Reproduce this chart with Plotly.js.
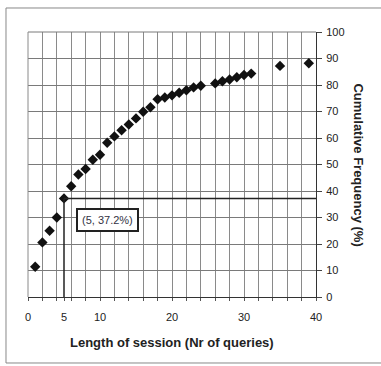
<!DOCTYPE html>
<html>
<head>
<meta charset="utf-8">
<script src="https://cdn.plot.ly/plotly-3.0.1.min.js"></script>
<style>html,body{margin:0;padding:0;background:#fff;}#chart{width:381px;height:366px;}</style>
</head>
<body>
<div id="chart"></div>
<script>
// Data
const sessionLength = [1,2,3,4,5,6,7,8,9,10,11,12,13,14,15,16,17,18,19,20,21,22,23,24,26,27,28,29,30,31,35,39];
const cumulativeFreq = [11.4,20.6,25.0,30.0,37.2,41.8,46.2,48.3,51.8,53.7,58.2,60.6,62.9,65.1,67.4,69.9,71.6,74.6,75.3,76.1,77.1,78.0,79.1,79.7,80.6,81.4,82.1,82.9,83.8,84.3,87.2,88.2];
const xTickVals = [0,5,10,20,30,40];
const yTickVals = [0,10,20,30,40,50,60,70,80,90,100];
const highlightX = 5;
const highlightY = 37.2;
const highlightLabel = "(5, 37.2%)";
const xTitle = "Length of session (Nr of queries)";
const yTitle = "Cumulative Frequency (%)";

const FONT = "Liberation Sans, Arial, sans-serif";

const trace = {
  x: sessionLength,
  y: cumulativeFreq,
  type: "scatter",
  mode: "markers",
  marker: {symbol: "diamond", size: 8, color: "#111"},
  hoverinfo: "x+y"
};

const layout = {
  width: 381, height: 366,
  margin: {l: 28, r: 65, t: 32, b: 69},
  paper_bgcolor: "#fff", plot_bgcolor: "#fff",
  showlegend: false,
  font: {family: FONT, size: 11, color: "#222"},
  xaxis: {
    range: [0, 40], tickmode: "array", tickvals: xTickVals, ticktext: xTickVals.map(String),
    showgrid: false, zeroline: false,
    showline: true, linecolor: "#333", linewidth: 1,
    ticks: "outside", ticklen: 3, tickcolor: "#555",
    ticklabelstandoff: 7,
    minor: {dtick: 2, tick0: 0, showgrid: true, gridcolor: "#8a8a8a", gridwidth: 1, ticks: "outside", ticklen: 3, tickcolor: "#555"},
    tickfont: {family: FONT, size: 11, color: "#222"},
    fixedrange: true
  },
  yaxis: {
    range: [0, 100], side: "right", tickmode: "array", tickvals: yTickVals,
    showgrid: true, gridcolor: "#7a7a7a", gridwidth: 1, zeroline: false,
    showline: true, linecolor: "#333", linewidth: 1,
    ticks: "outside", ticklen: 5, tickcolor: "#444",
    ticklabelstandoff: 2,
    tickfont: {family: FONT, size: 11, color: "#222"},
    fixedrange: true
  },
  shapes: [
    {type: "line", xref: "x", yref: "y", x0: highlightX, x1: highlightX, y0: 0, y1: highlightY, line: {color: "#222", width: 1.5}},
    {type: "line", xref: "x", yref: "y", x0: highlightX, x1: 40, y0: highlightY, y1: highlightY, line: {color: "#222", width: 1.5}},
    {type: "line", xref: "paper", yref: "paper", x0: 0, x1: 1, y0: 1, y1: 1, line: {color: "#7a7a7a", width: 1}},
    {type: "line", xref: "paper", yref: "paper", x0: 0, x1: 0, y0: 0, y1: 1, line: {color: "#8a8a8a", width: 1}},
    {type: "rect", xref: "paper", yref: "paper", x0: -0.0764, x1: 1.2465, y0: -0.249, y1: 1.0906, line: {color: "#888", width: 1}, layer: "below"}
  ],
  annotations: [
    {xref: "x", yref: "y", x: 11, y: 29, text: highlightLabel, showarrow: false,
     font: {family: FONT, size: 11, color: "#334"}, bgcolor: "#fff", bordercolor: "#222", borderwidth: 2, borderpad: 4},
    {xref: "paper", yref: "paper", x: 0.5, y: -0.17, text: "<b>" + xTitle + "</b>", showarrow: false,
     font: {family: FONT, size: 13, color: "#222"}, yanchor: "middle"},
    {xref: "paper", yref: "paper", x: 1.146, y: 0.5, text: "<b>" + yTitle + "</b>", showarrow: false, textangle: 90,
     font: {family: FONT, size: 13, color: "#222"}, xanchor: "center"}
  ]
};

Plotly.newPlot("chart", [trace], layout, {displayModeBar: false, staticPlot: true});
</script>
</body>
</html>
